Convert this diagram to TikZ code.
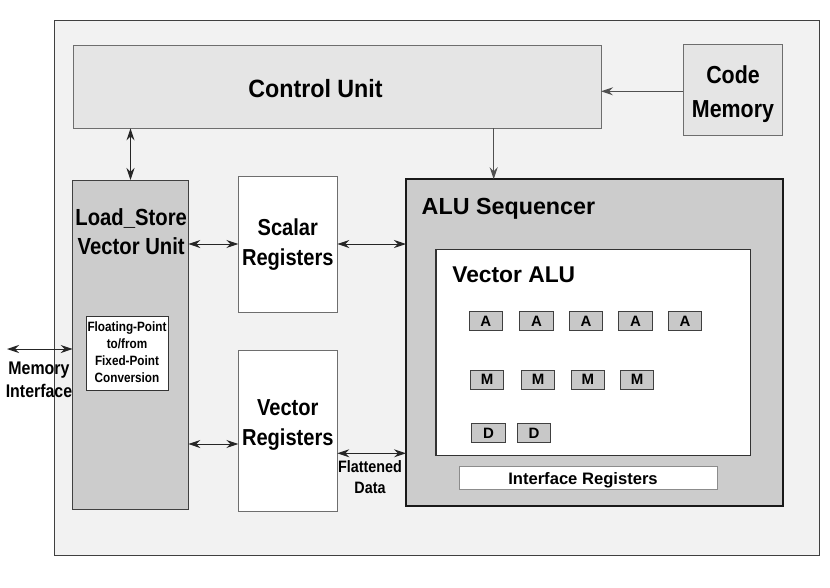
\documentclass[tikz,border=0pt]{standalone}
\usepackage{fontspec}
\setmainfont{Liberation Sans}
\newfontfamily\fA{Liberation Sans}
\newfontfamily\fB{Liberation Sans}[FakeStretch=0.87]
\newfontfamily\fC{Liberation Sans}[FakeStretch=0.93]
\usetikzlibrary{arrows.meta}
\definecolor{outerbg}{HTML}{F2F2F2}
\definecolor{cubg}{HTML}{E5E5E5}
\definecolor{midgray}{HTML}{CCCCCC}
\definecolor{unitgray}{HTML}{C8C8C8}
\definecolor{edge}{HTML}{404040}
\definecolor{lightedge}{HTML}{6E6E6E}
\definecolor{arrowgray}{HTML}{505050}
\begin{document}
\begin{tikzpicture}[x=1pt,y=-1pt,
  box/.style={draw, inner sep=0pt, outer sep=0pt, anchor=north west, line width=1pt},
  unitbox/.style={box, fill=unitgray, draw=edge, minimum width=33.6pt, minimum height=19.4pt,
     font=\fA\bfseries\fontsize{15}{17}\selectfont},
  arr/.style={line width=1pt, draw=black!85, {Stealth[length=12pt,width=8pt,inset=4pt]}-{Stealth[length=12pt,width=8pt,inset=4pt]}},
  arrone/.style={line width=1.3pt, draw=arrowgray, -{Stealth[length=12pt,width=8pt,inset=4pt]}},
  lbl/.style={inner sep=0pt, outer sep=0pt, align=center}
]
\useasboundingbox[fill=white] (0,0) rectangle (830,587);
% outer frame
\node[box, fill=outerbg, draw=edge, minimum width=764.7pt, minimum height=535.7pt] (outer) at (54.3,20) {};
% control unit and code memory
\node[box, fill=cubg, draw=lightedge, minimum width=527.7pt, minimum height=83.3pt] (cu) at (73.3,45) {};
\node[box, fill=cubg, draw=lightedge, minimum width=99pt, minimum height=91.3pt] (cm) at (683,44) {};
% load store
\node[box, fill=midgray, draw=edge, minimum width=115.6pt, minimum height=329pt] (ls) at (72.7,180) {};
\node[box, fill=white, draw=black!80, minimum width=82.4pt, minimum height=74.4pt] (fp) at (86.3,316.3) {};
% registers
\node[box, fill=white, draw=lightedge, minimum width=99pt, minimum height=136pt] (sc) at (238.3,176) {};
\node[box, fill=white, draw=lightedge, minimum width=99pt, minimum height=161pt] (vr) at (238.3,350) {};
% ALU sequencer
\node[box, fill=midgray, draw=black!90, line width=2pt, minimum width=377pt, minimum height=326.7pt] (alu) at (406,179.3) {};
\node[box, fill=white, draw=black!80, line width=1.5pt, minimum width=314.3pt, minimum height=206.4pt] (valu) at (436,249.3) {};
\node[box, fill=white, draw=black!45, minimum width=258pt, minimum height=23pt] (ir) at (459.3,466.3) {};
% units
\node[unitbox] (a1) at (469,311.3) {A};
\node[unitbox] (a2) at (519.7,311.3) {A};
\node[unitbox] (a3) at (569.3,311.3) {A};
\node[unitbox] (a4) at (618.7,311.3) {A};
\node[unitbox] (a5) at (668.3,311.3) {A};
\node[unitbox] (m1) at (470.3,370) {M};
\node[unitbox] (m2) at (521.3,370) {M};
\node[unitbox] (m3) at (571,370) {M};
\node[unitbox] (m4) at (620.3,370) {M};
\node[unitbox] (d1) at (471.7,423.3) {D};
\node[unitbox] (d2) at (517.3,423.3) {D};
% labels
\node[lbl, anchor=base, font=\fC\bfseries\fontsize{25}{30}\selectfont] (tcu) at (315.5,97.3) {Control Unit};
\node[lbl, font=\fB\bfseries\fontsize{24.6}{34.4}\selectfont] (tcm) at (733,94) {Code\\Memory};
\node[lbl, font=\fB\bfseries\fontsize{23.3}{29}\selectfont] (tls) at (131.2,231.2) {Load\_Store\\Vector Unit};
\node[lbl, font=\fB\bfseries\fontsize{13.5}{16.9}\selectfont] (tfp) at (127,352) {Floating-Point\\to/from\\Fixed-Point\\Conversion};
\node[lbl, font=\fB\bfseries\fontsize{23.1}{30.6}\selectfont] (tsc) at (287.8,244.4) {Scalar\\Registers};
\node[lbl, font=\fB\bfseries\fontsize{23.1}{29.8}\selectfont] (tvr) at (287.8,425) {Vector\\Registers};
\node[lbl, font=\fB\bfseries\fontsize{18.3}{23}\selectfont] (tmi) at (39,379.5) {Memory\\Interface};
\node[lbl, font=\fB\bfseries\fontsize{16.5}{21}\selectfont] (tfd) at (370,477.2) {Flattened\\Data};
\node[lbl, anchor=base west, font=\fA\bfseries\fontsize{23.3}{28}\selectfont] (talu) at (421.7,214) {ALU Sequencer};
\node[lbl, anchor=base west, font=\fA\bfseries\fontsize{22.8}{28}\selectfont] (tva) at (452.3,282.3) {Vector ALU};
\node[lbl, anchor=base, font=\fA\bfseries\fontsize{16.6}{20}\selectfont] (tir) at (583,484.4) {Interface Registers};
% connectors
\coordinate (memL) at (7,349);
\coordinate (cx) at (493.7,0);
\coordinate (cy) at (0,91.3);
\coordinate (vy1) at (0,444);
\coordinate (vy2) at (0,453.3);
\draw[arr] (memL) -- (ls.west |- memL);
\draw[arr] (cu.south -| ls.north) -- (ls.north);
\draw[arrone] (cu.south -| cx) -- (alu.north -| cx);
\draw[arrone] (cm.west |- cy) -- (cu.east |- cy);
\draw[arr] (ls.east |- sc.west) -- (sc.west);
\draw[arr] (sc.east) -- (alu.west |- sc.east);
\draw[arr] (ls.east |- vy1) -- (vr.west |- vy1);
\draw[arr] (vr.east |- vy2) -- (alu.west |- vy2);
\end{tikzpicture}
\end{document}
